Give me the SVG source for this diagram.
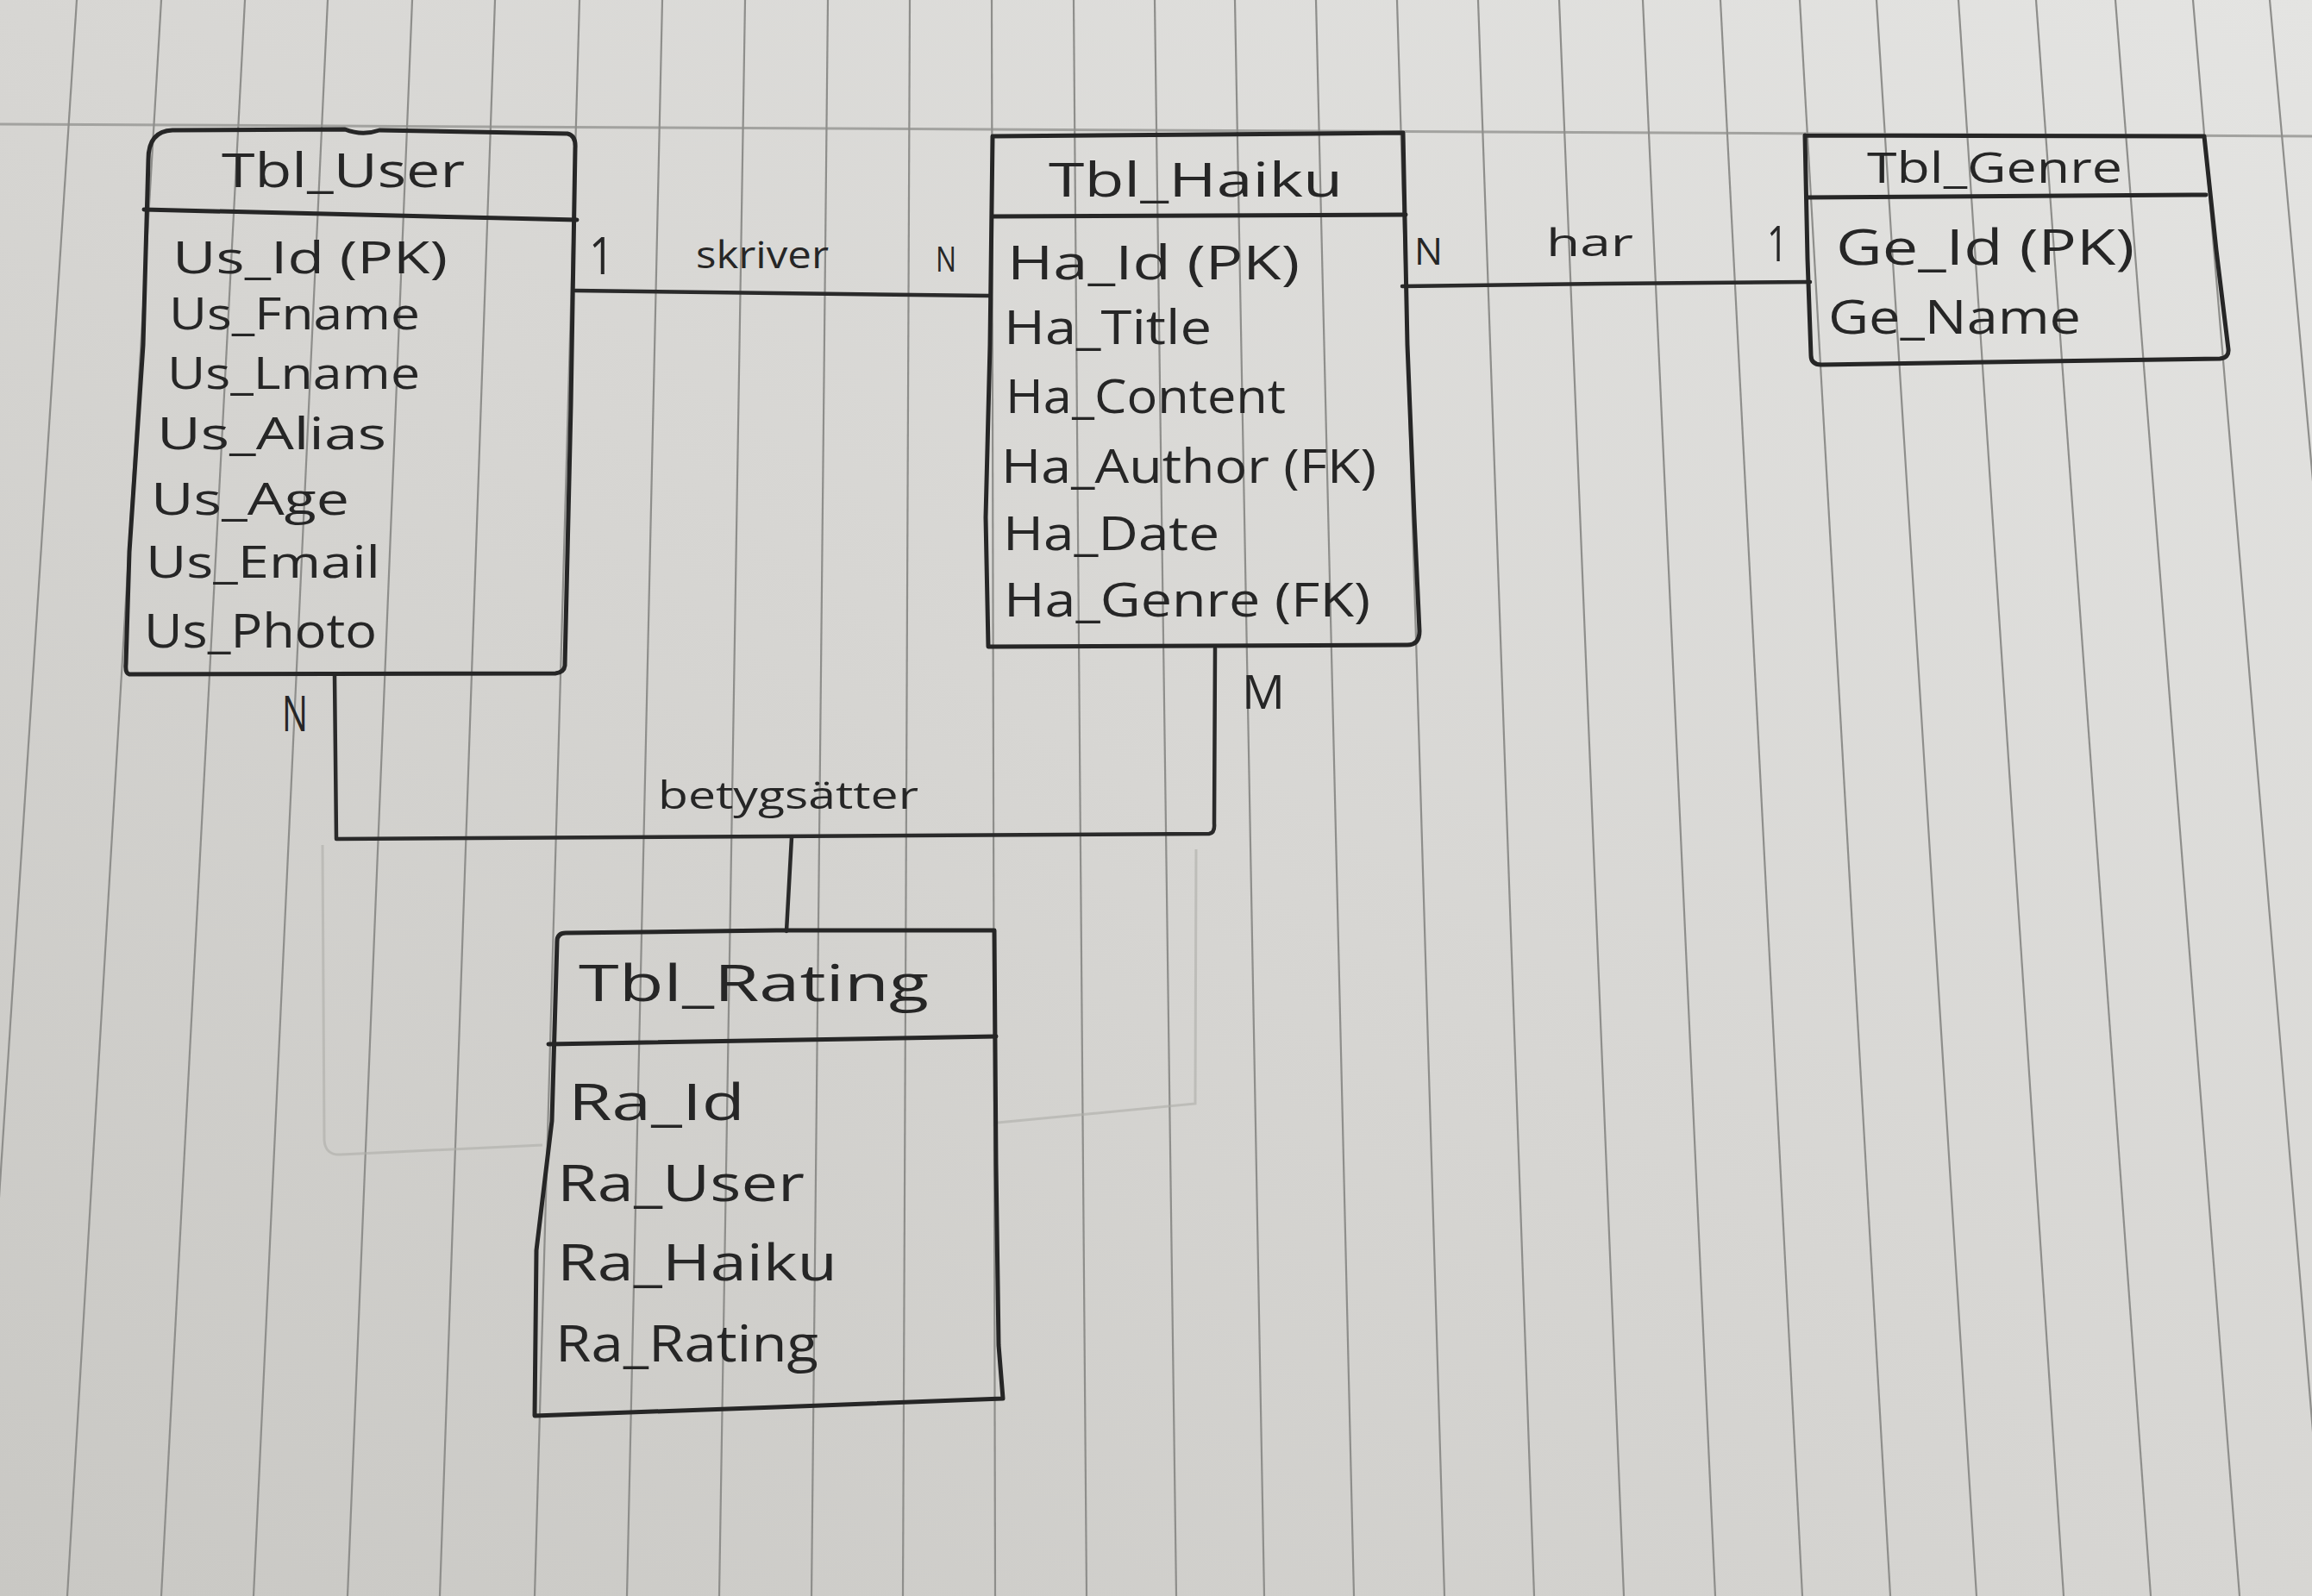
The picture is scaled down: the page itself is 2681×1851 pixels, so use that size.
<svg xmlns="http://www.w3.org/2000/svg" width="2681" height="1851" viewBox="0 0 2681 1851">
<defs>
<linearGradient id="paperGrad" x1="0" y1="1" x2="1" y2="0">
<stop offset="0" stop-color="#c9c8c4"/>
<stop offset="0.5" stop-color="#d7d6d3"/>
<stop offset="1" stop-color="#e4e4e2"/>
</linearGradient>
<style>
.rule{stroke:#8e8e8b;stroke-width:2.2;fill:none}
.hrule{stroke:#a2a29f;stroke-width:3;fill:none}
.faint{stroke:#aeada9;stroke-width:3;fill:none;opacity:0.6}
.ink{stroke:#262626;stroke-width:5;fill:none;stroke-linecap:round;stroke-linejoin:round}
.conn{stroke:#2a2a2a;stroke-width:4.5;fill:none;stroke-linecap:round;stroke-linejoin:round}
.t{font-family:"Open Sans","Liberation Sans",sans-serif;fill:#262626;font-weight:400}
</style>
</defs>
<rect x="0" y="0" width="2681" height="1851" fill="url(#paperGrad)"/>
<g id="paper">
<line class="hrule" x1="0" y1="144" x2="2681" y2="158"/>
<line class="rule" x1="89" y1="0" x2="-31" y2="1851"/>
<line class="rule" x1="187" y1="0" x2="78" y2="1851"/>
<line class="rule" x1="284" y1="0" x2="187" y2="1851"/>
<line class="rule" x1="380" y1="0" x2="294" y2="1851"/>
<line class="rule" x1="478" y1="0" x2="403" y2="1851"/>
<line class="rule" x1="574" y1="0" x2="510" y2="1851"/>
<line class="rule" x1="672" y1="0" x2="620" y2="1851"/>
<line class="rule" x1="768" y1="0" x2="727" y2="1851"/>
<line class="rule" x1="864" y1="0" x2="834" y2="1851"/>
<line class="rule" x1="960" y1="0" x2="941" y2="1851"/>
<line class="rule" x1="1055" y1="0" x2="1047" y2="1851"/>
<line class="rule" x1="1150" y1="0" x2="1154" y2="1851"/>
<line class="rule" x1="1245" y1="0" x2="1260" y2="1851"/>
<line class="rule" x1="1339" y1="0" x2="1364" y2="1851"/>
<line class="rule" x1="1432" y1="0" x2="1466" y2="1851"/>
<line class="rule" x1="1526" y1="0" x2="1570" y2="1851"/>
<line class="rule" x1="1620" y1="0" x2="1675" y2="1851"/>
<line class="rule" x1="1714" y1="0" x2="1779" y2="1851"/>
<line class="rule" x1="1808" y1="0" x2="1883" y2="1851"/>
<line class="rule" x1="1905" y1="0" x2="1989" y2="1851"/>
<line class="rule" x1="1995" y1="0" x2="2090" y2="1851"/>
<line class="rule" x1="2087" y1="0" x2="2192" y2="1851"/>
<line class="rule" x1="2176" y1="0" x2="2292" y2="1851"/>
<line class="rule" x1="2271" y1="0" x2="2393" y2="1851"/>
<line class="rule" x1="2361" y1="0" x2="2494" y2="1851"/>
<line class="rule" x1="2453" y1="0" x2="2597" y2="1851"/>
<line class="rule" x1="2543" y1="0" x2="2698" y2="1851"/>
<line class="rule" x1="2632" y1="0" x2="2798" y2="1851"/>
<path class="faint" d="M 374,980 L 376,1322 Q 377,1340 395,1339 L 629,1328"/>
<path class="faint" d="M 1387,985 L 1386,1280 L 1157,1302"/>
</g>
<g id="connectors">
<path class="conn" d="M 667,337 L 900,340 L 1147,343"/>
<path class="conn" d="M 1626,332 L 1860,329 L 2099,327"/>
<path class="conn" d="M 388,783 L 390,973 L 900,970 L 1402,967 Q 1409,966 1408,955 L 1409,752"/>
<path class="conn" d="M 918,971 L 912,1080"/>
<text class="t" x="683" y="318" font-size="60" textLength="29" lengthAdjust="spacingAndGlyphs">1</text>
<text class="t" x="807" y="311" font-size="44" textLength="154" lengthAdjust="spacingAndGlyphs">skriver</text>
<text class="t" x="1085" y="315" font-size="40" textLength="24" lengthAdjust="spacingAndGlyphs">N</text>
<text class="t" x="1640" y="307" font-size="44" textLength="33" lengthAdjust="spacingAndGlyphs">N</text>
<text class="t" x="1793" y="297" font-size="44" textLength="101" lengthAdjust="spacingAndGlyphs">har</text>
<text class="t" x="2049" y="303" font-size="56" textLength="24" lengthAdjust="spacingAndGlyphs">1</text>
<text class="t" x="327" y="848" font-size="56" textLength="30" lengthAdjust="spacingAndGlyphs">N</text>
<text class="t" x="1440" y="822" font-size="54" textLength="50" lengthAdjust="spacingAndGlyphs" font-weight="700">M</text>
<text class="t" x="763" y="938" font-size="44" textLength="302" lengthAdjust="spacingAndGlyphs">betygsätter</text>
</g>
<g id="node-user">
<path class="ink" d="M 172,185 Q 172,152 200,151 L 400,150 Q 420,158 440,151 L 658,155 Q 668,157 667,172 L 662,470 L 655,772 Q 654,780 644,781 L 150,782 Q 145,781 146,770 L 150,640 L 166,400 L 172,185"/>
<path class="ink" d="M 167,243 L 669,255"/>
<text class="t" x="257" y="217" font-size="54" textLength="282" lengthAdjust="spacingAndGlyphs">Tbl_User</text>
<text class="t" x="200" y="317" font-size="52" textLength="319" lengthAdjust="spacingAndGlyphs">Us_Id (PK)</text>
<text class="t" x="196" y="382" font-size="52" textLength="291" lengthAdjust="spacingAndGlyphs">Us_Fname</text>
<text class="t" x="194" y="451" font-size="52" textLength="293" lengthAdjust="spacingAndGlyphs">Us_Lname</text>
<text class="t" x="182" y="521" font-size="52" textLength="266" lengthAdjust="spacingAndGlyphs">Us_Alias</text>
<text class="t" x="175" y="597" font-size="52" textLength="230" lengthAdjust="spacingAndGlyphs">Us_Age</text>
<text class="t" x="169" y="670" font-size="52" textLength="272" lengthAdjust="spacingAndGlyphs">Us_Email</text>
<text class="t" x="167" y="751" font-size="54" textLength="270" lengthAdjust="spacingAndGlyphs">Us_Photo</text>
</g>
<g id="node-haiku">
<path class="ink" d="M 1151,158 L 1400,156 L 1627,154 L 1632,400 L 1640,600 L 1646,732 Q 1646,748 1632,748 L 1146,750 L 1143,600 L 1148,400 L 1151,158"/>
<path class="ink" d="M 1151,251 L 1630,249"/>
<text class="t" x="1216" y="228" font-size="54" textLength="341" lengthAdjust="spacingAndGlyphs">Tbl_Haiku</text>
<text class="t" x="1168" y="324" font-size="54" textLength="339" lengthAdjust="spacingAndGlyphs">Ha_Id (PK)</text>
<text class="t" x="1164" y="399" font-size="54" textLength="241" lengthAdjust="spacingAndGlyphs">Ha_Title</text>
<text class="t" x="1166" y="479" font-size="54" textLength="325" lengthAdjust="spacingAndGlyphs">Ha_Content</text>
<text class="t" x="1161" y="560" font-size="54" textLength="435" lengthAdjust="spacingAndGlyphs">Ha_Author (FK)</text>
<text class="t" x="1163" y="638" font-size="54" textLength="251" lengthAdjust="spacingAndGlyphs">Ha_Date</text>
<text class="t" x="1164" y="715" font-size="54" textLength="425" lengthAdjust="spacingAndGlyphs">Ha_Genre (FK)</text>
</g>
<g id="node-genre">
<path class="ink" d="M 2093,157 L 2556,158 L 2570,290 L 2584,405 Q 2585,415 2574,416 L 2112,423 Q 2100,423 2100,412 L 2096,300 L 2093,157"/>
<path class="ink" d="M 2095,229 L 2558,226"/>
<text class="t" x="2165" y="212" font-size="50" textLength="296" lengthAdjust="spacingAndGlyphs">Tbl_Genre</text>
<text class="t" x="2129" y="307" font-size="56" textLength="346" lengthAdjust="spacingAndGlyphs">Ge_Id (PK)</text>
<text class="t" x="2120" y="387" font-size="54" textLength="293" lengthAdjust="spacingAndGlyphs">Ge_Name</text>
</g>
<g id="node-rating">
<path class="ink" d="M 646,1092 Q 646,1082 656,1082 L 900,1079 L 1153,1079 L 1155,1350 L 1158,1560 L 1163,1622 L 900,1632 L 620,1642 L 622,1450 L 640,1300 L 646,1092"/>
<path class="ink" d="M 636,1211 L 1155,1202"/>
<text class="t" x="671" y="1161" font-size="58" textLength="406" lengthAdjust="spacingAndGlyphs">Tbl_Rating</text>
<text class="t" x="659" y="1299" font-size="58" textLength="205" lengthAdjust="spacingAndGlyphs">Ra_Id</text>
<text class="t" x="646" y="1393" font-size="58" textLength="287" lengthAdjust="spacingAndGlyphs">Ra_User</text>
<text class="t" x="646" y="1485" font-size="58" textLength="325" lengthAdjust="spacingAndGlyphs">Ra_Haiku</text>
<text class="t" x="644" y="1579" font-size="58" textLength="305" lengthAdjust="spacingAndGlyphs">Ra_Rating</text>
</g>
</svg>
